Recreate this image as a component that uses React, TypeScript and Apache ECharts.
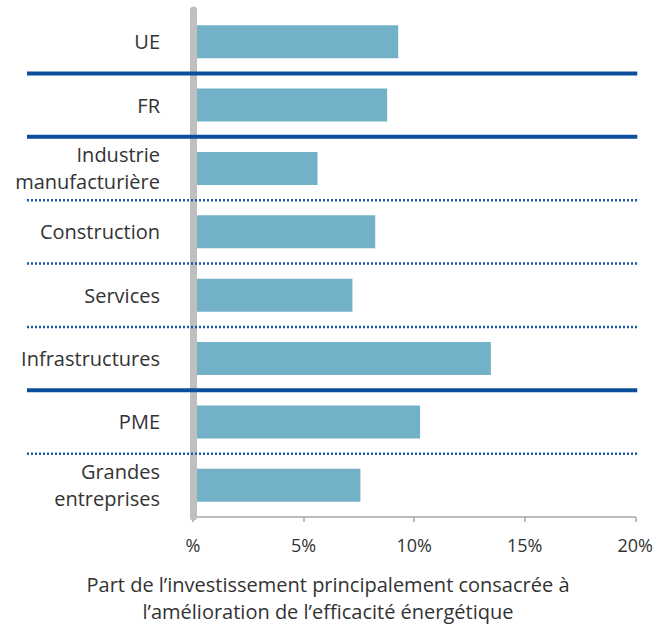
import React, { useEffect, useRef } from "react";
import * as echarts from "echarts";

const categories = [
  "UE",
  "FR",
  "Industrie\nmanufacturière",
  "Construction",
  "Services",
  "Infrastructures",
  "PME",
  "Grandes\nentreprises",
];
const values = [9.28, 8.78, 5.63, 8.24, 7.21, 13.47, 10.27, 7.57];
// separator drawn below category i (between i and i+1)
const separators = ["solid", "solid", "dotted", "dotted", "dotted", "solid", "dotted"];
const tickLabels = ["%", "5%", "10%", "15%", "20%"];
const axisTitleLines = [
  "Part de l’investissement principalement consacrée à",
  "l’amélioration de l’efficacité énergétique",
];

const FONT = "'Open Sans', 'Noto Sans', sans-serif";

export default function App() {
  const ref = useRef<HTMLDivElement>(null);
  useEffect(() => {
    document.body.style.margin = "0";
    if (!ref.current) return;
    const chart = echarts.init(ref.current, undefined, { renderer: "svg" });
    chart.setOption({
      animation: false,
      grid: { left: 193, right: 19, top: 10, bottom: 107 },
      xAxis: {
        type: "value",
        min: 0,
        max: 20,
        interval: 5,
        axisLine: { show: true, lineStyle: { color: "#a6a6a6", width: 1.5 } },
        axisTick: { show: true, length: 5, lineStyle: { color: "#a6a6a6", width: 1.5 } },
        splitLine: { show: false },
        axisLabel: {
          margin: 19,
          color: "#333",
          fontSize: 18,
          fontFamily: FONT,
          formatter: (v: number) => tickLabels[Math.round(v / 5)] ?? "",
        },
      },
      yAxis: {
        type: "category",
        inverse: true,
        data: categories,
        z: 10,
        axisLine: { show: true, lineStyle: { color: "#bfbfbf", width: 7 } },
        axisTick: { show: false },
        axisLabel: {
          margin: 33,
          color: "#333",
          fontSize: 20,
          lineHeight: 27,
          fontFamily: FONT,
          align: "right",
        },
      },
      series: [
        {
          type: "bar",
          data: values,
          barWidth: 33,
          itemStyle: { color: "#72b1c8" },
        },
      ],
    });

    const xEnd = (chart.convertToPixel({ xAxisIndex: 0 }, 20) as number) + 2;
    const lines = separators.map((s, i) => {
      const a = chart.convertToPixel({ yAxisIndex: 0 }, i) as number;
      const b = chart.convertToPixel({ yAxisIndex: 0 }, i + 1) as number;
      const y = (a + b) / 2;
      return {
        type: "line",
        z: 100,
        shape: { x1: 27, y1: y, x2: xEnd, y2: y },
        style:
          s === "solid"
            ? { stroke: "#0b4f9c", lineWidth: 4 }
            : { stroke: "#1a5aa6", lineWidth: 2.5, lineDash: [2, 2] },
      };
    });
    const titles = axisTitleLines.map((t, i) => ({
      type: "text",
      x: 328,
      y: 584 + i * 27.8,
      z: 100,
      style: {
        text: t,
        fill: "#333",
        fontSize: 20,
        fontFamily: FONT,
        align: "center",
        verticalAlign: "middle",
      },
    }));
    chart.setOption({ graphic: [...lines, ...titles] });
    return () => chart.dispose();
  }, []);
  return <div ref={ref} style={{ width: 656, height: 624 }} />;
}
